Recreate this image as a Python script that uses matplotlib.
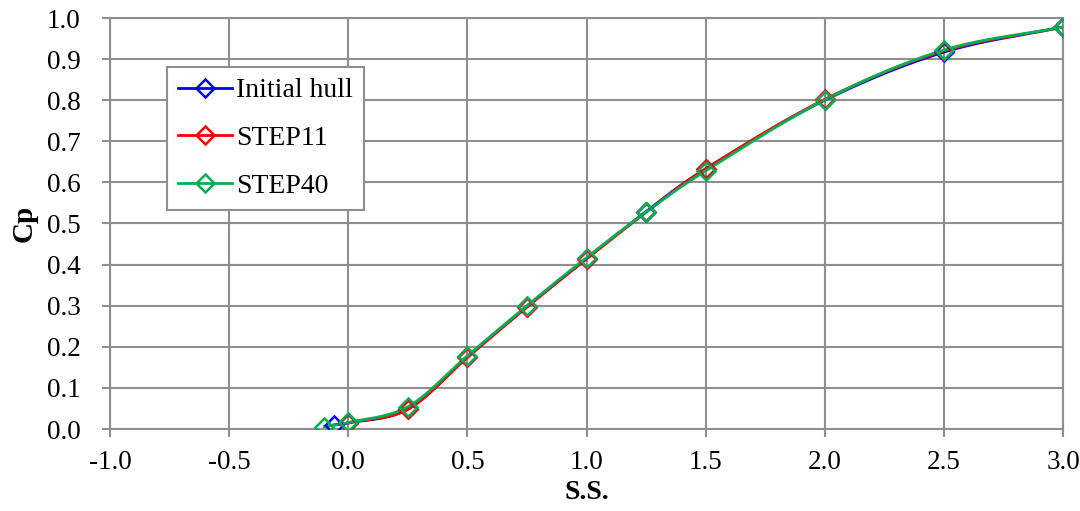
import numpy as np
import matplotlib
matplotlib.use("Agg")
import matplotlib.pyplot as plt

# sectional area curves (station vs Cp)
ss_initial = [-0.06, 0.0, 0.25, 0.5, 0.75, 1.0, 1.25, 1.5, 2.0, 2.5, 3.0]
cp_initial = [0.010, 0.015, 0.048, 0.175, 0.297, 0.414, 0.529, 0.633, 0.800, 0.917, 0.978]

ss_step11 = [0.0, 0.25, 0.5, 0.75, 1.0, 1.25, 1.5, 2.0, 2.5, 3.0]
cp_step11 = [0.015, 0.048, 0.174, 0.297, 0.414, 0.527, 0.633, 0.802, 0.920, 0.978]

ss_step40 = [-0.1, 0.0, 0.25, 0.5, 0.75, 1.0, 1.25, 1.5, 2.0, 2.5, 3.0]
cp_step40 = [0.006, 0.016, 0.054, 0.178, 0.300, 0.417, 0.528, 0.628, 0.801, 0.922, 0.978]

series = [
    ("Initial hull", ss_initial, cp_initial, "#0000ff"),
    ("STEP11", ss_step11, cp_step11, "#ff0000"),
    ("STEP40", ss_step40, cp_step40, "#00b050"),
]

x_ticks = np.arange(-1.0, 3.01, 0.5)
y_ticks = np.arange(0.0, 1.01, 0.1)


def smooth(x, y, n=20):
    # Catmull-Rom curve through the points, like a spreadsheet "smoothed line"
    x = np.asarray(x, float)
    y = np.asarray(y, float)
    px = np.concatenate([[2 * x[0] - x[1]], x, [2 * x[-1] - x[-2]]])
    py = np.concatenate([[2 * y[0] - y[1]], y, [2 * y[-1] - y[-2]]])
    xs, ys = [], []
    t = np.linspace(0, 1, n, endpoint=False)
    for i in range(1, len(px) - 2):
        for p, out in ((px, xs), (py, ys)):
            p0, p1, p2, p3 = p[i - 1], p[i], p[i + 1], p[i + 2]
            out.extend(0.5 * (2 * p1 + (-p0 + p2) * t
                              + (2 * p0 - 5 * p1 + 4 * p2 - p3) * t ** 2
                              + (-p0 + 3 * p1 - 3 * p2 + p3) * t ** 3))
    xs.append(x[-1])
    ys.append(y[-1])
    return xs, ys


plt.rcParams['font.family'] = ['Liberation Serif', 'DejaVu Serif']
grey = "#8f8f8f"

fig = plt.figure(figsize=(10.8, 5.11), dpi=100)
ax = fig.add_axes([110 / 1080, 1 - 429 / 511, (1063 - 110) / 1080, (429 - 18) / 511])

for label, xs, ys, col in series:
    sx, sy = smooth(xs, ys)
    ax.plot(sx, sy, color=col, lw=2, zorder=3)
    ax.plot(xs, ys, ls='none', marker='D', ms=9, mfc='none', mec=col, mew=1.8, zorder=4)
    ax.plot([], [], color=col, lw=2, marker='D', ms=9, mfc='none', mec=col, mew=1.8, label=label)

ax.set_xlim(-1.0, 3.0)
ax.set_ylim(0.0, 1.0)
ax.set_xticks(x_ticks)
ax.set_yticks(y_ticks)
ax.set_xticklabels([f"{v:.1f}" for v in x_ticks])
ax.set_yticklabels([f"{v:.1f}" for v in y_ticks])
ax.grid(True, color=grey, lw=1.5)
ax.set_axisbelow(True)
for s in ax.spines.values():
    s.set_color(grey)
    s.set_linewidth(1.5)
ax.tick_params(direction='out', length=6, width=1.5, color=grey,
               labelsize=19.5, labelcolor='black')
ax.tick_params(axis='x', pad=9)
ax.tick_params(axis='y', pad=15)

ax.set_xlabel("S.S.", fontsize=20, fontweight='bold')
ax.set_ylabel("Cp", fontsize=21, fontweight='bold')
ax.xaxis.set_label_coords(0.5, -0.125)
ax.yaxis.set_label_coords(-0.076, 0.5)

leg = ax.legend(loc='upper left', bbox_to_anchor=(0.0598, 0.881), fontsize=20,
                frameon=True, fancybox=False, handlelength=1.95, handletextpad=0.15,
                borderpad=0.4, labelspacing=0.8, borderaxespad=0)
leg.get_frame().set_edgecolor(grey)
leg.get_frame().set_linewidth(1.5)
leg.get_frame().set_alpha(1)

fig.savefig("out.png", dpi=100)
